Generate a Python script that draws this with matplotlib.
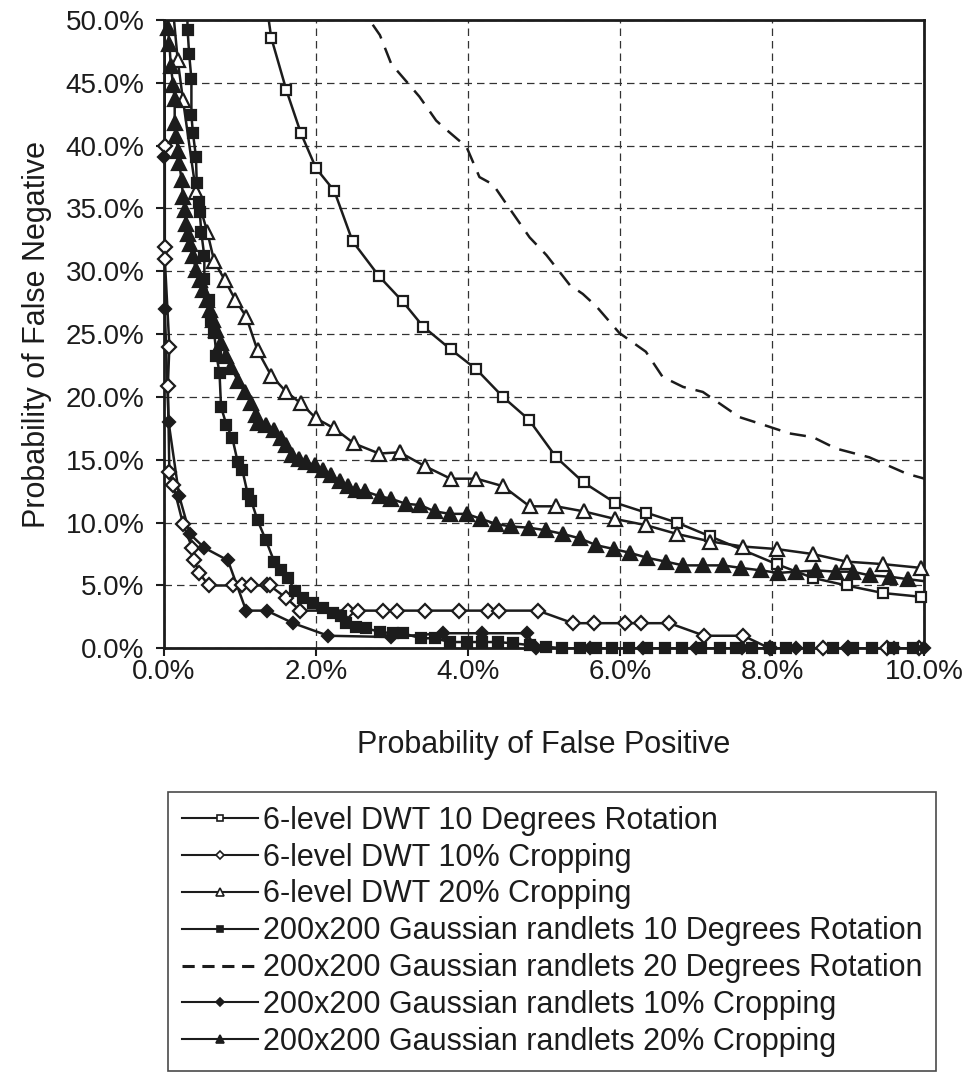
import numpy as np
import matplotlib
matplotlib.use("Agg")
import matplotlib.pyplot as plt
from matplotlib.lines import Line2D
from matplotlib.ticker import FuncFormatter, MultipleLocator

plt.rcParams["font.family"] = ["Liberation Sans", "DejaVu Sans"]

# --- data (percent) ---
dwt_rot10_x = [1.34, 1.41, 1.61, 1.80, 2.00, 2.24, 2.48, 2.83, 3.14, 3.41, 3.77, 4.11, 4.46, 4.80,
               5.16, 5.52, 5.93, 6.34, 6.75, 7.19, 8.06, 8.54, 8.98, 9.46, 9.96, 10.4]
dwt_rot10_y = [51.6, 48.6, 44.4, 41.0, 38.2, 36.4, 32.4, 29.6, 27.6, 25.6, 23.8, 22.2, 20.0, 18.2,
               15.2, 13.2, 11.6, 10.8, 10.0, 8.9, 6.7, 5.6, 5.0, 4.4, 4.1, 3.8]

dwt_crop10_x = [0.0, 0.01, 0.01, 0.01, 0.07, 0.05, 0.07, 0.12, 0.25, 0.37, 0.40, 0.46, 0.59, 0.91,
                1.03, 1.15, 1.35, 1.39, 1.61, 1.79, 2.42, 2.55, 2.88, 3.06, 3.44, 3.88, 4.26, 4.41,
                4.92, 5.38, 5.66, 6.06, 6.28, 6.65, 7.11, 7.62, 7.97, 8.67, 9.00, 9.51, 9.94]
dwt_crop10_y = [60.0, 40.0, 31.9, 31.0, 24.0, 20.9, 14.0, 13.0, 9.9, 8.0, 7.0, 6.0, 5.0, 5.0,
                5.0, 5.0, 5.0, 5.0, 4.0, 3.0, 3.0, 3.0, 3.0, 3.0, 3.0, 3.0, 3.0, 3.0,
                3.0, 2.0, 2.0, 2.0, 2.0, 2.0, 1.0, 1.0, 0.0, 0.0, 0.0, 0.0, 0.0]

dwt_crop20_x = [0.10, 0.18, 0.25, 0.42, 0.57, 0.66, 0.80, 0.94, 1.08, 1.23, 1.41, 1.61, 1.80, 2.00,
                2.24, 2.50, 2.83, 3.10, 3.43, 3.77, 4.11, 4.46, 4.81, 5.16, 5.52, 5.93, 6.34,
                6.75, 7.19, 7.62, 8.06, 8.54, 8.98, 9.46, 9.96, 10.4]
dwt_crop20_y = [52.0, 46.8, 43.6, 36.3, 33.1, 30.8, 29.3, 27.7, 26.4, 23.7, 21.7, 20.4, 19.5, 18.3,
                17.5, 16.3, 15.5, 15.6, 14.5, 13.5, 13.5, 12.9, 11.3, 11.3, 10.9, 10.3, 9.8,
                9.1, 8.5, 8.1, 7.9, 7.5, 6.9, 6.7, 6.4, 6.2]

gr_rot10_x = [0.30, 0.31, 0.33, 0.36, 0.36, 0.38, 0.42, 0.43, 0.46, 0.47, 0.49, 0.53, 0.53, 0.59,
              0.62, 0.66, 0.69, 0.73, 0.75, 0.82, 0.90, 0.97, 1.03, 1.10, 1.15, 1.23, 1.34, 1.45,
              1.54, 1.63, 1.72, 1.83, 1.96, 2.09, 2.22, 2.33, 2.40, 2.53, 2.66, 2.84, 3.01, 3.14,
              3.38, 3.56, 3.76, 3.98, 4.19, 4.39, 4.59, 4.81, 5.03, 5.24, 5.47, 5.69, 5.90, 6.12,
              6.36, 6.59, 6.82, 7.07, 7.31, 7.53, 7.74, 7.97, 8.19, 8.49, 8.80, 9.06, 9.32, 9.59,
              9.85, 10.1]
gr_rot10_y = [52.0, 49.2, 47.3, 45.3, 42.4, 41.0, 39.1, 37.0, 35.5, 34.7, 33.1, 31.2, 29.4, 27.7,
              26.1, 25.1, 23.3, 21.9, 19.2, 17.8, 16.7, 14.8, 14.2, 12.3, 11.7, 10.2, 8.6, 6.9,
              6.2, 5.6, 4.6, 4.0, 3.6, 3.2, 2.8, 2.6, 2.0, 1.7, 1.6, 1.3, 1.2, 1.2,
              0.8, 0.8, 0.5, 0.5, 0.5, 0.5, 0.4, 0.26, 0.13, 0.0, 0.0, 0.0, 0.0, 0.0,
              0.0, 0.0, 0.0, 0.0, 0.0, 0.0, 0.0, 0.0, 0.0, 0.0, 0.0, 0.0, 0.0, 0.0,
              0.0, 0.0]

gr_rot20_x = [2.60, 2.68, 2.84, 2.99, 3.19, 3.36, 3.58, 3.67, 3.98, 4.15, 4.33, 4.50, 4.81, 5.03,
              5.25, 5.34, 5.51, 5.69, 5.99, 6.34, 6.56, 6.83, 7.09, 7.57, 7.88, 8.23, 8.54, 8.84,
              9.28, 9.77, 10.3]
gr_rot20_y = [51.5, 50.2, 48.8, 46.5, 45.1, 43.9, 42.0, 41.5, 39.9, 37.5, 36.9, 35.4, 32.7, 31.3,
              29.6, 28.9, 28.2, 27.2, 25.1, 23.6, 21.6, 20.8, 20.4, 18.4, 17.8, 17.1, 16.8, 15.9,
              15.2, 13.9, 13.0]

gr_crop10_x = [0.0, 0.0, 0.01, 0.06, 0.20, 0.34, 0.53, 0.84, 1.08, 1.35, 1.70, 2.16, 2.99, 3.67,
               4.19, 4.77, 4.90, 5.60, 6.30, 7.00, 7.60, 8.32, 9.00, 9.60, 10.0]
gr_crop10_y = [60.0, 39.1, 27.0, 18.0, 12.1, 9.1, 8.0, 7.0, 3.0, 3.0, 2.0, 1.0, 0.9, 1.2,
               1.2, 1.2, 0.0, 0.0, 0.0, 0.0, 0.0, 0.0, 0.0, 0.0, 0.0]

gr_crop20_x = [0.03, 0.05, 0.07, 0.09, 0.12, 0.14, 0.14, 0.16, 0.18, 0.20, 0.23, 0.25, 0.27, 0.29,
               0.31, 0.34, 0.38, 0.42, 0.47, 0.51, 0.56, 0.60, 0.64, 0.69, 0.75, 0.82, 0.88, 0.97,
               1.06, 1.15, 1.21, 1.23, 1.34, 1.45, 1.54, 1.61, 1.69, 1.78, 1.87, 1.98, 2.09, 2.20,
               2.31, 2.42, 2.53, 2.64, 2.84, 2.99, 3.18, 3.37, 3.56, 3.76, 3.98, 4.17, 4.37, 4.56,
               4.80, 5.02, 5.25, 5.47, 5.69, 5.92, 6.13, 6.36, 6.60, 6.83, 7.09, 7.35, 7.59, 7.86,
               8.08, 8.32, 8.58, 8.84, 9.06, 9.29, 9.55, 9.79, 10.2]
gr_crop20_y = [53.0, 49.4, 48.1, 46.3, 44.8, 43.7, 41.8, 40.8, 39.6, 38.6, 37.3, 35.9, 34.9, 33.8,
               33.0, 32.2, 31.2, 30.1, 29.3, 28.5, 27.7, 26.9, 26.1, 25.3, 24.3, 23.3, 22.4, 21.3,
               20.4, 19.5, 18.6, 17.9, 17.8, 17.4, 16.7, 16.2, 15.4, 15.1, 14.8, 14.6, 14.2, 13.8,
               13.3, 12.9, 12.6, 12.5, 12.1, 11.9, 11.5, 11.4, 10.9, 10.7, 10.7, 10.3, 9.9, 9.7,
               9.6, 9.4, 9.1, 8.75, 8.2, 7.9, 7.6, 7.2, 6.9, 6.6, 6.6, 6.6, 6.4, 6.2,
               6.0, 6.1, 6.2, 6.1, 6.1, 5.8, 5.7, 5.5, 5.2]

labels = [
    "6-level DWT 10 Degrees Rotation",
    "6-level DWT 10% Cropping",
    "6-level DWT 20% Cropping",
    "200x200 Gaussian randlets 10 Degrees Rotation",
    "200x200 Gaussian randlets 20 Degrees Rotation",
    "200x200 Gaussian randlets 10% Cropping",
    "200x200 Gaussian randlets 20% Cropping",
]

ink = "#1c1c1c"
series = [
    (dwt_rot10_x, dwt_rot10_y, dict(marker="s", mfc="white", ms=7.5), "-"),
    (dwt_crop10_x, dwt_crop10_y, dict(marker="D", mfc="white", ms=7.5), "-"),
    (dwt_crop20_x, dwt_crop20_y, dict(marker="^", mfc="white", ms=10), "-"),
    (gr_rot10_x, gr_rot10_y, dict(marker="s", mfc=ink, ms=7.5), "-"),
    (gr_rot20_x, gr_rot20_y, dict(marker=None), (0, (6.5, 4))),
    (gr_crop10_x, gr_crop10_y, dict(marker="D", mfc=ink, ms=6.5), "-"),
    (gr_crop20_x, gr_crop20_y, dict(marker="^", mfc=ink, ms=10), "-"),
]

fig = plt.figure(figsize=(9.69, 10.8), dpi=100)
ax = fig.add_axes([0.1693, 0.3997, 0.7843, 0.5818])
ax.set_xlim(0, 10)
ax.set_ylim(0, 50)

handles = []
for (x, y, mk, ls), lab in zip(series, labels):
    x = np.array(x)
    y = np.array(y)
    ax.plot(x, y, color=ink, lw=1.8, ls=ls, zorder=3)
    if mk["marker"] is not None:
        inside = (x <= 10.05) & (y <= 50.05)
        ax.plot(x[inside], y[inside], ls="none", marker=mk["marker"], ms=mk["ms"],
                mfc=mk["mfc"], mec=ink, mew=1.6, clip_on=False, zorder=4)
        handles.append(Line2D([], [], color=ink, lw=1.5, ls=ls, marker=mk["marker"],
                              ms=mk["ms"] * 0.6, mfc=mk["mfc"], mec=ink, mew=1.2))
    else:
        handles.append(Line2D([], [], color=ink, lw=2.2, ls=(0, (4, 2.5))))

ax.xaxis.set_major_locator(MultipleLocator(2))
ax.yaxis.set_major_locator(MultipleLocator(5))
ax.xaxis.set_major_formatter(FuncFormatter(lambda v, p: f"{v:.1f}%"))
ax.yaxis.set_major_formatter(FuncFormatter(lambda v, p: f"{v:.1f}%"))
ax.tick_params(axis="both", labelsize=20, length=6, width=1.5, colors=ink, direction="out")
ax.tick_params(axis="x", pad=2)
ax.tick_params(axis="y", pad=8)
ax.grid(True, color="#333333", lw=0.9, ls=(0, (6, 4)))
for s in ax.spines.values():
    s.set_color(ink)
    s.set_linewidth(2)

ax.set_xlabel("Probability of False Positive", fontsize=22, color=ink, labelpad=32)
ax.set_ylabel("Probability of False Negative", fontsize=22, color=ink, labelpad=10)

leg = fig.legend(handles, labels, loc="upper left", bbox_to_anchor=(0.1734, 0.2667),
                 fontsize=22, frameon=True, fancybox=False, borderaxespad=0,
                 handlelength=2.5, handletextpad=0.15, labelspacing=0.225, borderpad=0.45)
leg.get_frame().set_edgecolor(ink)
leg.get_frame().set_linewidth(1.2)
for t in leg.get_texts():
    t.set_color(ink)

fig.savefig("out.png", dpi=100)
